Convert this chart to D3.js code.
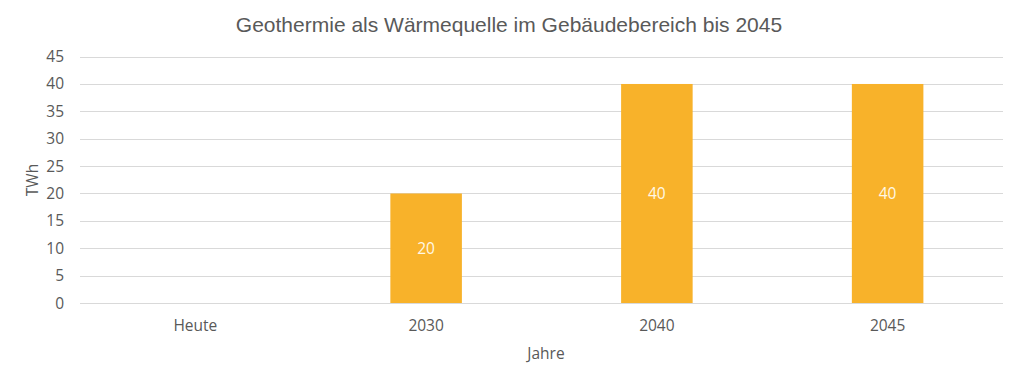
<!DOCTYPE html>
<html><head><meta charset="utf-8">
<script src="https://cdn.jsdelivr.net/npm/d3@7"></script>
<style>body{margin:0;background:#fff}</style>
</head><body><svg id="c" width="1020" height="383"></svg>
<script>
const categories = ["Heute","2030","2040","2045"];
const values = [0,20,40,40];
const yTicks = [0,5,10,15,20,25,30,35,40,45];
const title = "Geothermie als Wärmequelle im Gebäudebereich bis 2045";
const xTitle = "Jahre", yTitle = "TWh";

const svg = d3.select("#c");
const m = {l:80, r:17};
const W = 1020;
const x = d3.scaleBand().domain(categories).range([m.l, W-m.r]).paddingInner(0.69).paddingOuter(0.345);
const y = d3.scaleLinear().domain([0,45]).range([303, 56.6]);
const font = "'Open Sans', sans-serif";
const grey = "#595959";
const fs = 15.5;

svg.append("text").attr("x",509).attr("y",32).attr("text-anchor","middle")
  .attr("font-family","'Liberation Sans', Arial, sans-serif").attr("font-size",21).attr("fill",grey).text(title);

const g = svg.append("g");
g.selectAll("line.grid").data(yTicks).join("line").attr("class","grid")
  .attr("x1",m.l).attr("x2",W-m.r).attr("y1",d=>Math.round(y(d))+0.5).attr("y2",d=>Math.round(y(d))+0.5)
  .attr("stroke","#d9d9d9").attr("stroke-width",1);
g.selectAll("text.yt").data(yTicks).join("text").attr("class","yt")
  .attr("x",64).attr("y",d=>y(d)+5.5).attr("text-anchor","end")
  .attr("font-family",font).attr("font-size",fs).attr("fill",grey).text(d=>d);

const rows = categories.map((c,i)=>({c, v: values[i]}));
g.selectAll("rect.bar").data(rows).join("rect").attr("class","bar")
  .attr("x",d=>x(d.c)).attr("width",x.bandwidth())
  .attr("y",d=>y(d.v)).attr("height",d=>y(0)-y(d.v)).attr("fill","#F8B22A");
g.selectAll("text.lab").data(rows.filter(d=>d.v>0)).join("text").attr("class","lab")
  .attr("x",d=>x(d.c)+x.bandwidth()/2).attr("y",d=>(y(d.v)+y(0))/2+5.5).attr("text-anchor","middle")
  .attr("font-family",font).attr("font-size",fs).attr("fill","#fff8e6").text(d=>d.v);

g.selectAll("text.xt").data(categories).join("text").attr("class","xt")
  .attr("x",d=>x(d)+x.bandwidth()/2).attr("y",331).attr("text-anchor","middle")
  .attr("font-family",font).attr("font-size",fs).attr("fill",grey).text(d=>d);

svg.append("text").attr("x",546).attr("y",359).attr("text-anchor","middle")
  .attr("font-family",font).attr("font-size",fs).attr("fill",grey).text(xTitle);
svg.append("text").attr("transform","translate(38,180) rotate(-90)").attr("text-anchor","middle")
  .attr("font-family",font).attr("font-size",fs).attr("fill",grey).text(yTitle);
</script></body></html>
